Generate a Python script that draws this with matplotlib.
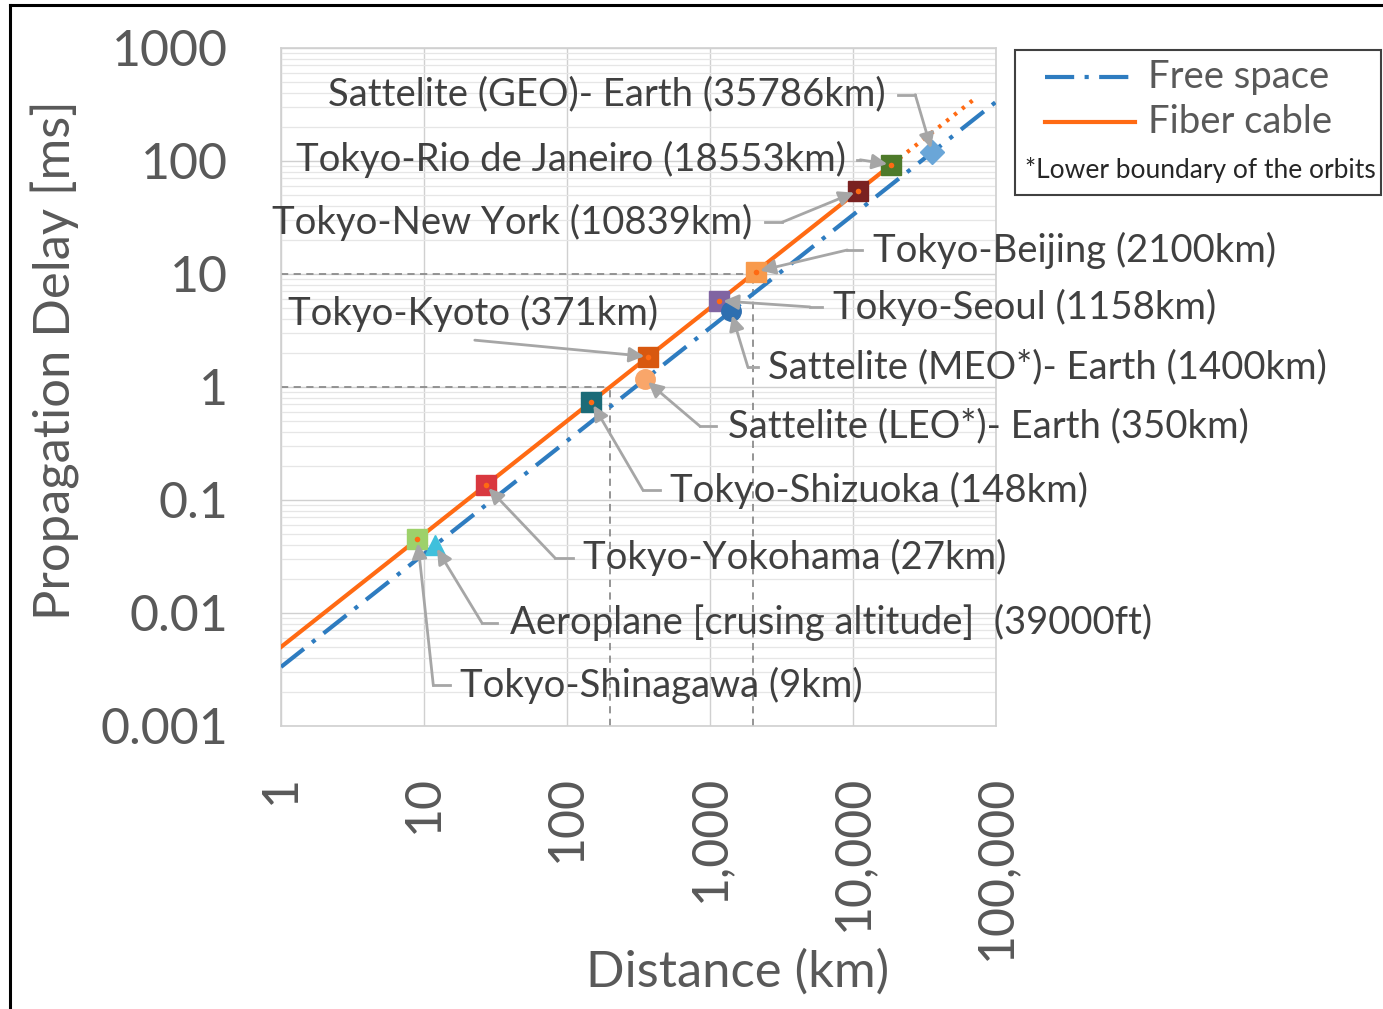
import matplotlib
matplotlib.use("Agg")
import matplotlib.pyplot as plt
from matplotlib.lines import Line2D
from matplotlib.patches import Rectangle
from matplotlib.ticker import FixedLocator, LogLocator, NullFormatter

plt.rcParams["font.family"] = ["Lato", "DejaVu Sans"]

# Theoretische Geraden (Endpunkte aus dem Bild)
free_km = [1, 100000]
free_ms = [0.00333, 333.3]
fiber_km = [1, 18553]
fiber_ms = [0.005, 92.8]
fiber_ext_km = [18553, 70000]
fiber_ext_ms = [92.8, 350.0]

# Hilfslinien (1 ms / 10 ms)
guide_km = [200, 2000]
guide_ms = [1, 10]

# Beispielpunkte
point_labels = [
    "Tokyo-Shinagawa (9km)",
    "Aeroplane [crusing altitude]  (39000ft)",
    "Tokyo-Yokohama (27km)",
    "Tokyo-Shizuoka (148km)",
    "Sattelite (LEO*)- Earth (350km)",
    "Tokyo-Kyoto (371km)",
    "Tokyo-Seoul (1158km)",
    "Sattelite (MEO*)- Earth (1400km)",
    "Tokyo-Beijing (2100km)",
    "Tokyo-New York (10839km)",
    "Tokyo-Rio de Janeiro (18553km)",
    "Sattelite (GEO)- Earth (35786km)",
]
point_km = [9, 11.9, 27, 148, 350, 371, 1158, 1400, 2100, 10839, 18553, 35786]
point_ms = [0.045, 0.0397, 0.135, 0.74, 1.167, 1.855, 5.79, 4.667, 10.5, 54.2, 92.8, 119.3]
point_on_fiber = [True, False, True, True, False, True, True, False, True, True, True, False]
point_marker = ["s", "^", "s", "s", "o", "s", "s", "o", "s", "s", "s", "D"]
point_color = ["#9dd16a", "#3fc0dc", "#d9383f", "#1b6b78", "#f9a66a", "#d8580f",
               "#8064a2", "#2e6fb0", "#f89a4c", "#7a2121", "#4e7a2a", "#6aa6d8"]

# Beschriftungslage in Achsenanteilen: (text_x, text_y, ha, leader_start_x, knick_x, knick_y)
callouts = [
    (0.250, 0.060, "left", 0.236, 0.213, 0.060),
    (0.320, 0.152, "left", 0.302, 0.281, 0.152),
    (0.422, 0.248, "left", 0.408, 0.383, 0.248),
    (0.544, 0.348, "left", 0.530, 0.506, 0.348),
    (0.625, 0.442, "left", 0.608, 0.586, 0.442),
    (0.010, 0.609, "left", 0.271, 0.271, 0.569),
    (0.772, 0.618, "left", 0.757, 0.740, 0.618),
    (0.681, 0.529, "left", 0.667, 0.653, 0.529),
    (0.828, 0.702, "left", 0.813, 0.792, 0.702),
    (0.659, 0.743, "right", 0.677, 0.701, 0.743),
    (0.790, 0.835, "right", 0.806, 0.810, 0.835),
    (0.846, 0.931, "right", 0.863, 0.887, 0.931),
]

x_ticks = [1, 10, 100, 1000, 10000, 100000]
x_ticklabels = ["1", "10", "100", "1,000", "10,000", "100,000"]
y_ticks = [0.001, 0.01, 0.1, 1, 10, 100, 1000]
y_ticklabels = ["0.001", "0.01", "0.1", "1", "10", "100", "1000"]

BLUE = "#2e7cc0"
ORANGE = "#ff6a13"
TXT = "#404040"
TICK = "#595959"
ARROW = "#a6a6a6"
FREE_DASH = (0, (7, 2.5, 1, 2.5))

fig = plt.figure(figsize=(13.83, 10.09), dpi=100)
ax = fig.add_axes([0.2032, 0.2805, 0.517, 0.6720])

ax.set_xscale("log")
ax.set_yscale("log")
ax.set_xlim(1, 100000)
ax.set_ylim(0.001, 1000)

# Gitter
ax.xaxis.set_major_locator(FixedLocator(x_ticks))
ax.yaxis.set_major_locator(FixedLocator(y_ticks))
ax.xaxis.set_minor_locator(LogLocator(base=10, subs=range(2, 10)))
ax.yaxis.set_minor_locator(LogLocator(base=10, subs=range(2, 10)))
ax.xaxis.set_minor_formatter(NullFormatter())
ax.yaxis.set_minor_formatter(NullFormatter())
ax.grid(which="major", color="#d0d0d0", lw=1.0)
ax.grid(which="minor", color="#e6e6e6", lw=0.9)
ax.set_axisbelow(True)
for sp in ax.spines.values():
    sp.set_color("#d0d0d0")
    sp.set_linewidth(1.2)

ax.set_xticklabels(x_ticklabels, rotation=90)
ax.set_yticklabels(y_ticklabels)
ax.tick_params(which="both", length=0)
ax.tick_params(axis="x", labelsize=36, colors=TICK, pad=35)
ax.tick_params(axis="y", labelsize=36, colors=TICK, pad=38)

ax.set_xlabel("Distance (km)", fontsize=36.5, color=TICK, va="center")
ax.set_ylabel("Propagation Delay [ms]", fontsize=36.5, color=TICK, va="center")
ax.xaxis.set_label_coords(0.638, -0.363)
ax.yaxis.set_label_coords(-0.316, 0.54)

# Hilfslinien
for km, ms in zip(guide_km, guide_ms):
    ax.plot([1, km], [ms, ms], ls=(0, (4, 3)), color="#8c8c8c", lw=1.3, zorder=2)
    ax.plot([km, km], [0.001, ms], ls=(0, (4, 3)), color="#8c8c8c", lw=1.3, zorder=2)

# Geraden
ax.plot(free_km, free_ms, color=BLUE, lw=3.0, ls=FREE_DASH, zorder=3)
ax.plot(fiber_km, fiber_ms, color=ORANGE, lw=3.0, zorder=4)
ax.plot(fiber_ext_km, fiber_ext_ms, color=ORANGE, lw=3.0, ls=(0, (0.8, 1.6)), zorder=4)

# Punkte
for km, ms, mk, c, fib in zip(point_km, point_ms, point_marker, point_color, point_on_fiber):
    size = 14 if mk != "D" else 12
    ax.plot(km, ms, marker=mk, ms=size, color=c, mec=c, ls="none", zorder=5)
    if fib:
        ax.plot(km, ms, marker="o", ms=4, color=ORANGE, mec="none", ls="none", zorder=6)

# Beschriftungen mit Pfeilen
for lab, km, ms, (tx, ty, ha, lx, kx, ky) in zip(point_labels, point_km, point_ms, callouts):
    ax.text(tx, ty, lab, transform=ax.transAxes, ha=ha, va="center",
            fontsize=27.5, color=TXT, zorder=7, clip_on=False)
    if lx != kx:
        ax.plot([lx, kx], [ky, ky], transform=ax.transAxes, color=ARROW, lw=2.0,
                clip_on=False, zorder=6)
    ax.annotate("", xy=(km, ms), xycoords="data", xytext=(kx, ky), textcoords="axes fraction",
                arrowprops=dict(arrowstyle="-|>,head_length=0.9,head_width=0.45", color=ARROW,
                                lw=2.0, shrinkA=0, shrinkB=3), zorder=6)

# Legende (eigener Kasten)
fig.patches.append(Rectangle((0.734, 0.807), 0.2646, 0.1437, transform=fig.transFigure,
                             fill=False, ec="#404040", lw=1.5))
fig.lines.append(Line2D([0.7556, 0.8207], [0.9237, 0.9237], transform=fig.transFigure,
                        color=BLUE, lw=3.0, ls=FREE_DASH))
fig.lines.append(Line2D([0.7556, 0.8207], [0.879, 0.879], transform=fig.transFigure,
                        color=ORANGE, lw=3.0))
fig.text(0.830, 0.9237, "Free space", fontsize=27.5, color=TICK, va="center", ha="left")
fig.text(0.830, 0.879, "Fiber cable", fontsize=27.5, color=TICK, va="center", ha="left")
fig.text(0.741, 0.8315, "*Lower boundary of the orbits", fontsize=19, color="#262626",
         va="center", ha="left")

# Rahmen links/oben
fig.lines.append(Line2D([0.0075, 0.0075], [0.0, 0.995], transform=fig.transFigure,
                        color="black", lw=2.2))
fig.lines.append(Line2D([0.0075, 1.0], [0.995, 0.995], transform=fig.transFigure,
                        color="black", lw=2.2))

fig.savefig("out.png", dpi=100)
